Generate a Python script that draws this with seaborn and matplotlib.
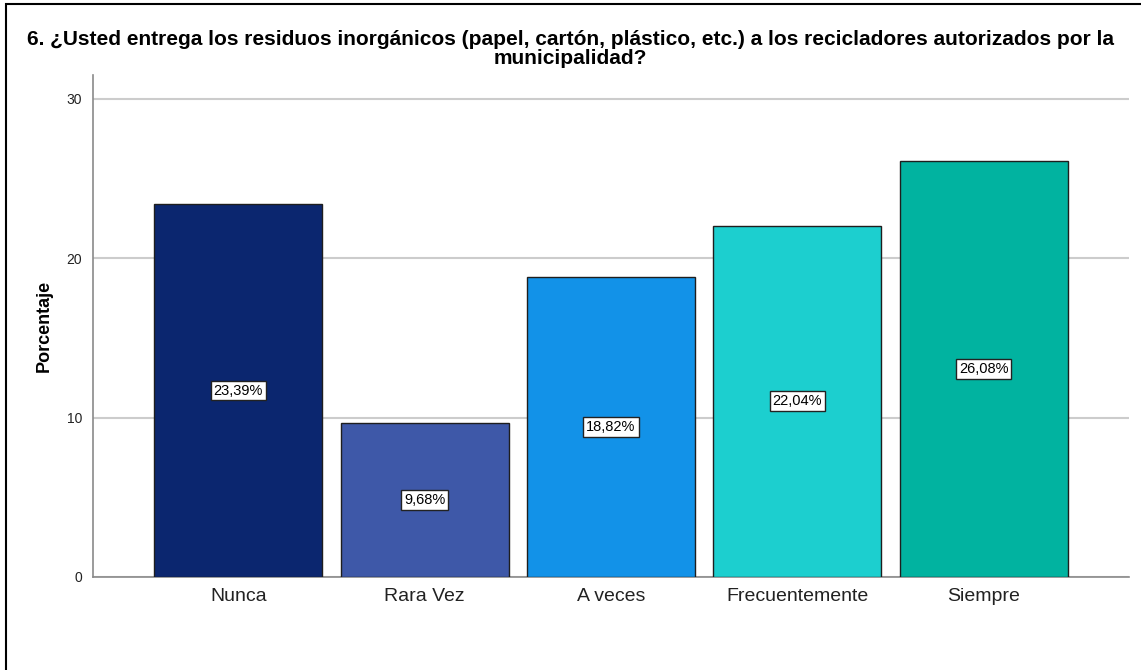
import matplotlib
matplotlib.use("Agg")
import matplotlib.pyplot as plt
import seaborn as sns
import pandas as pd
from matplotlib.patches import Rectangle

# datos
categorias = ["Nunca", "Rara Vez", "A veces", "Frecuentemente", "Siempre"]
porcentajes = [23.39, 9.68, 18.82, 22.04, 26.08]
colores = ["#0b266f", "#3e58a8", "#1292e8", "#1ccfcf", "#01b3a0"]
titulo = ("6. ¿Usted entrega los residuos inorgánicos (papel, cartón, plástico, etc.) a los recicladores autorizados por la\n"
          "municipalidad?")

df = pd.DataFrame({"categoria": categorias, "porcentaje": porcentajes})

sns.set_style("white")
plt.rcParams["font.family"] = ["Liberation Sans", "DejaVu Sans"]

fig = plt.figure(figsize=(11.41, 6.70), dpi=100)
ax = fig.add_axes([0.0815, 0.139, 0.908, 0.749])

sns.barplot(data=df, x="categoria", y="porcentaje", hue="categoria",
            palette=colores, legend=False, width=0.9, saturation=1,
            edgecolor="#1e1e1e", linewidth=1, ax=ax, zorder=3)

ax.set_ylim(0, 31.5)
ax.set_xlim(-0.78, 4.78)
ax.set_yticks([0, 10, 20, 30])
ax.yaxis.grid(True, color="#cccccc", linewidth=1.5, zorder=0)
ax.set_axisbelow(True)
for s in ["top", "right"]:
    ax.spines[s].set_visible(False)
for s in ["left", "bottom"]:
    ax.spines[s].set_color("#8a8a8a")
    ax.spines[s].set_linewidth(1.2)
ax.tick_params(axis="y", labelsize=10, colors="#222222", length=0, pad=8)
ax.tick_params(axis="x", labelsize=14, colors="#222222", length=0, pad=8)
ax.set_xlabel("")
ax.set_ylabel("Porcentaje", fontsize=13, fontweight="bold", color="black", labelpad=10)

# etiquetas en las barras
for p, v in zip(ax.patches, porcentajes):
    ax.text(p.get_x() + p.get_width() / 2, v / 2, f"{v:.2f}%".replace(".", ","),
            ha="center", va="center", fontsize=10.5, color="black", zorder=5,
            bbox=dict(boxstyle="square,pad=0.2", facecolor="white",
                      edgecolor="#222222", linewidth=1))

fig.text(0.5, 0.927, titulo, ha="center", va="center", fontsize=15,
         fontweight="bold", color="black", linespacing=0.95)

# marco exterior
fig.patches.append(Rectangle((6 / 1141, -0.02), 1.1, 1 - 3.5 / 670 + 0.02,
                             transform=fig.transFigure, fill=False,
                             edgecolor="black", linewidth=1.5))

fig.savefig("out.png", dpi=100)
